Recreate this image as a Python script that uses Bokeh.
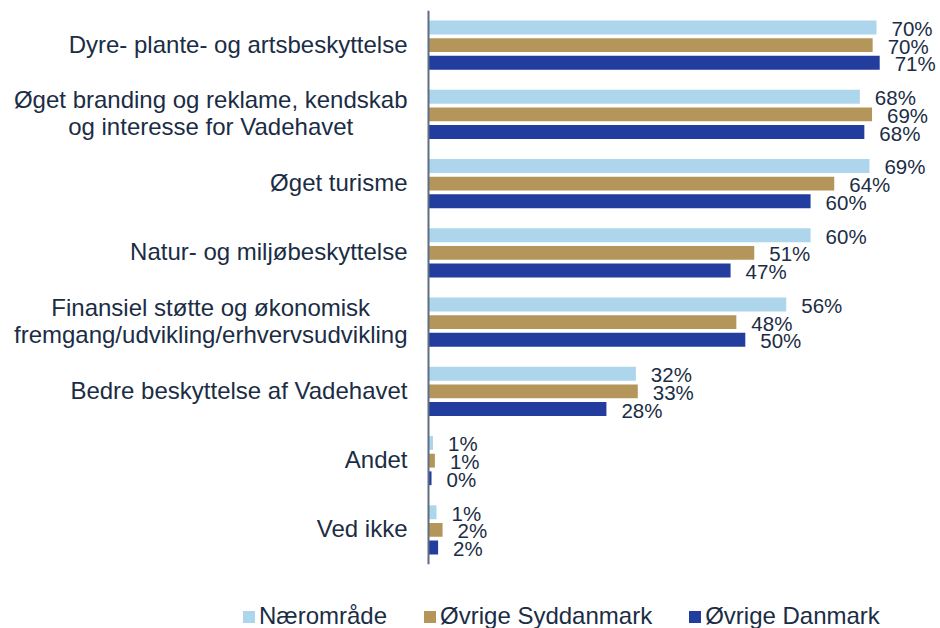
from bokeh.plotting import figure
from bokeh.layouts import column
from bokeh.models import FactorRange, Range1d, ColumnDataSource, Legend, LegendItem, Span
from bokeh.transform import dodge
from bokeh.embed import file_html
from bokeh.resources import INLINE
from bokeh.core.properties import value

categories = [
    "Dyre- plante- og artsbeskyttelse",
    "Øget branding og reklame, kendskab\nog interesse for Vadehavet",
    "Øget turisme",
    "Natur- og miljøbeskyttelse",
    "Finansiel støtte og økonomisk\nfremgang/udvikling/erhvervsudvikling",
    "Bedre beskyttelse af Vadehavet",
    "Andet",
    "Ved ikke",
]
series_names = ["Nærområde", "Øvrige Syddanmark", "Øvrige Danmark"]
naeromraade = [70.0, 67.4, 68.9, 59.7, 55.9, 32.4, 0.7, 1.25]
syddanmark = [69.4, 69.3, 63.4, 50.9, 48.1, 32.7, 1.0, 2.2]
danmark = [70.5, 68.1, 59.7, 47.2, 49.5, 27.8, 0.47, 1.5]
labels_naer = ["70%", "68%", "69%", "60%", "56%", "32%", "1%", "1%"]
labels_syd = ["70%", "69%", "64%", "51%", "48%", "33%", "1%", "2%"]
labels_dk = ["71%", "68%", "60%", "47%", "50%", "28%", "0%", "2%"]

colors = ["#ADD6EC", "#B5965A", "#233D9E"]
text_color = "#1B2D45"
axis_color = "#5C6E82"
font = "Liberation Sans"

src = ColumnDataSource(dict(
    cat=categories,
    base=[0] * len(categories),
    naer=naeromraade, syd=syddanmark, dk=danmark,
    l_naer=labels_naer, l_syd=labels_syd, l_dk=labels_dk,
))

# x range: 6.4 px per percentage point, baseline at 428 px
p = figure(
    width=940, height=566,
    y_range=FactorRange(factors=categories[::-1]),
    x_range=Range1d(-428 / 6.4, 512 / 6.4),
    output_backend="svg", toolbar_location=None,
    min_border_left=0, min_border_right=0,
    min_border_top=10, min_border_bottom=2,
)
p.outline_line_color = None
p.border_fill_color = "white"
p.xgrid.visible = False
p.ygrid.visible = False
p.xaxis.visible = False
p.yaxis.visible = False

p.add_layout(Span(location=0, dimension="height", line_color=axis_color, line_width=2))

# category labels: block right-aligned to the axis, lines centred
p.text(x="base", y="cat", text="cat", source=src,
       x_offset=-21, y_offset=-1, anchor="center_right", text_align="center",
       text_baseline="middle", text_line_height=1.0,
       text_font=value(font), text_font_size="24px", text_color=text_color)

offsets = [0.255, 0.0, -0.255]
fields = ["naer", "syd", "dk"]
lfields = ["l_naer", "l_syd", "l_dk"]
for f, lf, off, c in zip(fields, lfields, offsets, colors):
    p.hbar(y=dodge("cat", off, range=p.y_range), right=f, left="base",
           height=0.2, source=src, fill_color=c, line_color=None)
    p.text(x=f, y=dodge("cat", off, range=p.y_range), text=lf, source=src,
           x_offset=15, y_offset=1, text_align="left", text_baseline="middle",
           text_font=value(font), text_font_size="20.5px", text_color=text_color)

# legend strip below the chart (zero-size proxy bars only feed the legend swatches)
pl = figure(
    width=940, height=62, x_range=Range1d(0, 1), y_range=Range1d(0, 1),
    output_backend="svg", toolbar_location=None,
    min_border_left=0, min_border_right=0, min_border_top=0, min_border_bottom=0,
)
pl.outline_line_color = None
pl.axis.visible = False
pl.grid.visible = False
proxy = ColumnDataSource(dict(y=[0], left=[0], right=[0]))
leg_renderers = [pl.hbar(y="y", left="left", right="right", height=0, source=proxy,
                         fill_color=c, line_color=None)
                 for c in colors]
legend = Legend(
    items=[LegendItem(label=n, renderers=[r]) for n, r in zip(series_names, leg_renderers)],
    orientation="horizontal",
    location=(241, -2),
    glyph_width=15, glyph_height=15,
    label_standoff=3, spacing=35,
    padding=0, margin=0,
    border_line_color=None, background_fill_alpha=0,
    label_text_font=font, label_text_font_size="24px", label_text_color=text_color,
)
pl.add_layout(legend, "center")

layout = column(p, pl, spacing=0)
open("out.html", "w").write(file_html(layout, INLINE))
